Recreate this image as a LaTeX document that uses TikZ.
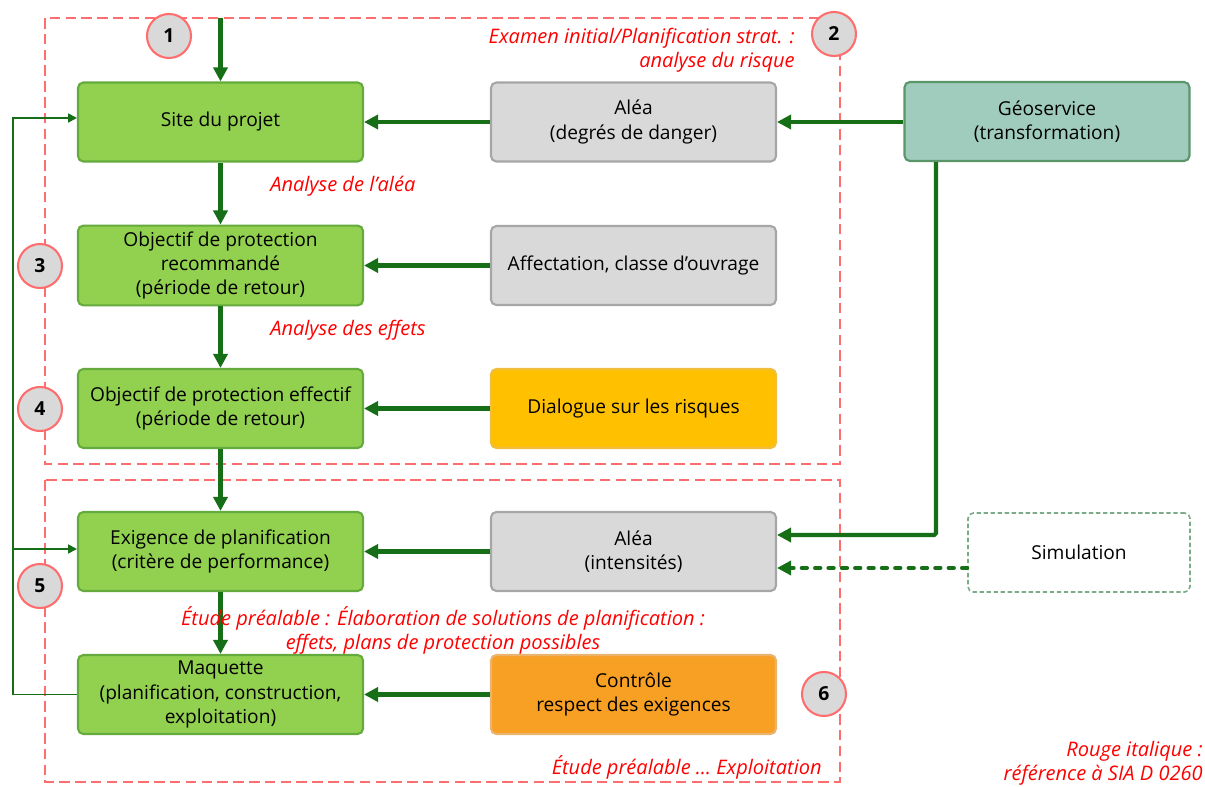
\documentclass[tikz,border=0pt]{standalone}
\usepackage{fontspec}
\setmainfont{Open Sans}
\usetikzlibrary{arrows.meta,positioning,calc}
\definecolor{vertclair}{RGB}{146,208,80}
\definecolor{vertbord}{RGB}{100,170,60}
\definecolor{vertfonce}{RGB}{22,110,22}
\definecolor{grisclair}{RGB}{217,217,217}
\definecolor{grisbord}{RGB}{166,166,166}
\definecolor{geofond}{RGB}{160,204,190}
\definecolor{geobord}{RGB}{90,150,105}
\definecolor{jaune}{RGB}{255,192,0}
\definecolor{jaunebord}{RGB}{240,190,60}
\definecolor{orange}{RGB}{248,160,36}
\definecolor{orangebord}{RGB}{235,180,110}
\definecolor{rougetexte}{RGB}{255,0,0}
\definecolor{rougeclair}{RGB}{255,110,110}
\tikzset{
	>={Triangle[length=8pt,width=8pt]},
	bloc/.style={
		rectangle,
		rounded corners=3pt,
		line width=1.2pt,
		minimum width=5.7cm,
		minimum height=1.58cm,
		align=center,
		font=\fontsize{10.9}{13.9}\selectfont},
	projet/.style={bloc, fill=vertclair, draw=vertbord},
	donnee/.style={bloc, fill=grisclair, draw=grisbord},
	fleche/.style={draw=vertfonce, line width=2.3pt, ->},
	retour/.style={draw=vertfonce, line width=1.1pt, -{Triangle[length=5pt,width=5pt]}},
	etape/.style={
		circle,
		fill=grisclair,
		draw=rougeclair, line width=1.2pt,
		minimum size=0.88cm,
		inner sep=0pt,
		font=\fontsize{11}{12}\selectfont\bfseries},
	remarque/.style={text=rougetexte, inner sep=0pt, font=\fontsize{11.4}{13.7}\selectfont\itshape},
	cadre/.style={draw=rougeclair, line width=0.6pt, dash pattern=on 6pt off 3pt},
}
\begin{document}
\begin{tikzpicture}[x=0.02cm, y=-0.02cm]
	\useasboundingbox (0,0) rectangle (1205,787);
	% cadres des phases
	\draw[cadre] (45,18) rectangle (840,464);
	\draw[cadre] (45,480) rectangle (840,782);
	% blocs du projet
	\node[projet] (site)     at (220.5,122)   {Site du projet};
	\node[projet] (objrec)   at (220.5,265.5) {Objectif de protection\\recommandé\\(période de retour)};
	\node[projet] (objeff)   at (220.5,408.5) {Objectif de protection effectif\\(période de retour)};
	\node[projet] (exigence) at (220.5,551.5) {Exigence de planification\\(critère de performance)};
	\node[projet] (maquette) at (220.5,694.5) {Maquette\\(planification, construction,\\exploitation)};
	% blocs des donnees
	\node[donnee] (aleadanger) at (633.5,122)   {Aléa\\(degrés de danger)};
	\node[donnee] (affectation) at (633.5,265.5) {Affectation, classe d’ouvrage};
	\node[bloc, fill=jaune, draw=jaunebord] (dialogue) at (633.5,408.5) {Dialogue sur les risques};
	\node[donnee] (aleaint) at (633.5,551.5) {Aléa\\(intensités)};
	\node[bloc, fill=orange, draw=orangebord] (controle) at (633.5,694.5) {Contrôle\\respect des exigences};
	\node[bloc, fill=geofond, draw=geobord] (geo) at (1047,121.5) {Géoservice\\(transformation)};
	\node[bloc, minimum width=4.44cm, draw=geobord!80, line width=0.9pt, dash pattern=on 2.5pt off 1.5pt] (simulation) at (1079,552.5) {Simulation};
	% etapes
	\node[etape] (e1) at (169,36)  {1};
	\node[etape] (e2) at (834,34)  {2};
	\node[etape] (e3) at (40,266)  {3};
	\node[etape] (e4) at (40,409)  {4};
	\node[etape] (e5) at (40,586)  {5};
	\node[etape] (e6) at (824,694) {6};
	% connecteurs
	\coordinate (entree) at (220.5,18);
	\coordinate (versint) at ($(aleaint.east)+(0,-16.5)$);
	\coordinate (verssim) at ($(aleaint.east)+(0,16.5)$);
	\draw[fleche] (entree) -- (site);
	\draw[fleche] (site) -- (objrec);
	\draw[fleche] (objrec) -- (objeff);
	\draw[fleche] (objeff) -- (exigence);
	\draw[fleche] (exigence) -- (maquette);
	\draw[fleche] (aleadanger) -- (site);
	\draw[fleche] (affectation) -- (objrec);
	\draw[fleche] (dialogue) -- (objeff);
	\draw[fleche] (aleaint) -- (exigence);
	\draw[fleche] (controle) -- (maquette);
	\draw[fleche] (geo.west |- aleadanger.east) -- (aleadanger.east);
	\draw[fleche, rounded corners=1pt] (geo.south west -| 936,0) |- (versint);
	\draw[fleche, dash pattern=on 3pt off 4.6pt, line cap=round] (simulation.west |- verssim) -- (verssim);
	\draw[retour] (maquette.west) -| (13,118) -- ($(site.west)+(0,-4)$);
	\draw[retour] (13,549) -- ($(exigence.west)+(0,-2.5)$);
	% remarques
	\node[remarque, anchor=east, align=right] (rem1) at (795,50) {Examen initial/Planification strat. :\\analyse du risque};
	\node[remarque, anchor=west] (rem2) at (270,186) {Analyse de l’aléa};
	\node[remarque, anchor=west] (rem3) at (270,330) {Analyse des effets};
	\node[remarque, align=center] (rem4) at (443,630) {Étude préalable : Élaboration de solutions de planification :\\effets, plans de protection possibles};
	\node[remarque, anchor=east] (rem5) at (822,767) {Étude préalable … Exploitation};
	\node[remarque, anchor=east, align=right] (rem6) at (1203,763) {Rouge italique :\\référence à SIA D 0260};
\end{tikzpicture}
\end{document}
